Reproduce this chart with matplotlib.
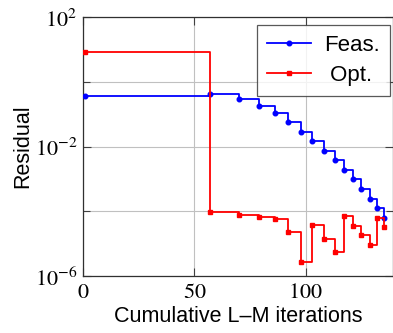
import math
import matplotlib
matplotlib.use("Agg")
import matplotlib.pyplot as plt
import matplotlib.ticker as mticker

plt.rcParams['mathtext.fontset'] = 'stix'

# Data
feas_x = [1, 57, 70, 79, 86, 92, 98, 103, 108, 113, 117, 121, 125, 129, 132, 135]
feas_y = [0.36, 0.43, 0.30, 0.185, 0.107, 0.058, 0.029, 0.015, 0.0075, 0.0038,
          0.0019, 9.8e-4, 4.9e-4, 2.4e-4, 1.24e-4, 6.2e-5]
opt_x = [1, 57, 70, 79, 86, 92, 98, 103, 108, 113, 117, 121, 125, 129, 132, 135]
opt_y = [8.3, 9.3e-5, 7.9e-5, 6.8e-5, 5.9e-5, 2.35e-5, 2.8e-6, 3.7e-5, 1.36e-5,
         5.7e-6, 7.0e-5, 3.6e-5, 1.81e-5, 9.1e-6, 6.4e-5, 3.3e-5]
series_labels = ["Feas.", "Opt."]
x_ticks = [0, 50, 100]
y_major = [1e-6, 1e-2, 1e2]
y_minor = [1e-4, 1e0]

fig = plt.figure(figsize=(3.93, 3.33), dpi=100)
ax = fig.add_axes([0.211, 0.171, 0.788, 0.777])

ax.plot(feas_x, feas_y, drawstyle='steps-post', color=(0, 0, 1), lw=1.3,
        marker='o', ms=3.3, label=series_labels[0], zorder=3)
ax.plot(opt_x, opt_y, drawstyle='steps-post', color=(1, 0, 0), lw=1.3,
        marker='s', ms=3.1, label=series_labels[1], zorder=3)

ax.set_yscale('log')
ax.set_xlim(0, 139)
ax.set_ylim(1e-6, 1e2)
ax.set_xticks(x_ticks)
ax.set_xticklabels([f"${v}$" for v in x_ticks])
ax.yaxis.set_major_locator(mticker.FixedLocator(y_major))
ax.yaxis.set_minor_locator(mticker.FixedLocator(y_minor))
ax.yaxis.set_major_formatter(mticker.FuncFormatter(
    lambda v, p: r"$10^{%d}$" % round(math.log10(v))))
ax.yaxis.set_minor_formatter(mticker.NullFormatter())

ax.grid(True, which='both', color='#c0c0c0', lw=0.8, zorder=0)
ax.set_axisbelow(True)

ax.tick_params(which='both', direction='in', top=True, right=True,
               color='#404040', labelsize=16, pad=4)
ax.tick_params(which='major', length=6, width=0.8)
ax.tick_params(which='minor', length=5, width=0.8)
for s in ax.spines.values():
    s.set_color('#303030')
    s.set_linewidth(0.9)

ax.set_xlabel("Cumulative L\u2013M iterations", family='Liberation Sans',
              fontsize=15.5, labelpad=3)
ax.set_ylabel("Residual", family='Liberation Sans', fontsize=15.5, labelpad=1)

leg = ax.legend(loc='upper right', bbox_to_anchor=(0.992, 0.970),
                prop={'family': 'Liberation Sans', 'size': 16},
                frameon=True, fancybox=False, edgecolor='#303030',
                handlelength=2.0, numpoints=1, borderpad=0.45,
                labelspacing=0.4, handletextpad=0.6, borderaxespad=0.0)
leg.get_frame().set_linewidth(0.9)
# pgfplots centres legend text; nudge the shorter entry
leg.get_texts()[1].set_text(" " + series_labels[1])

fig.savefig("out.png", dpi=100)
